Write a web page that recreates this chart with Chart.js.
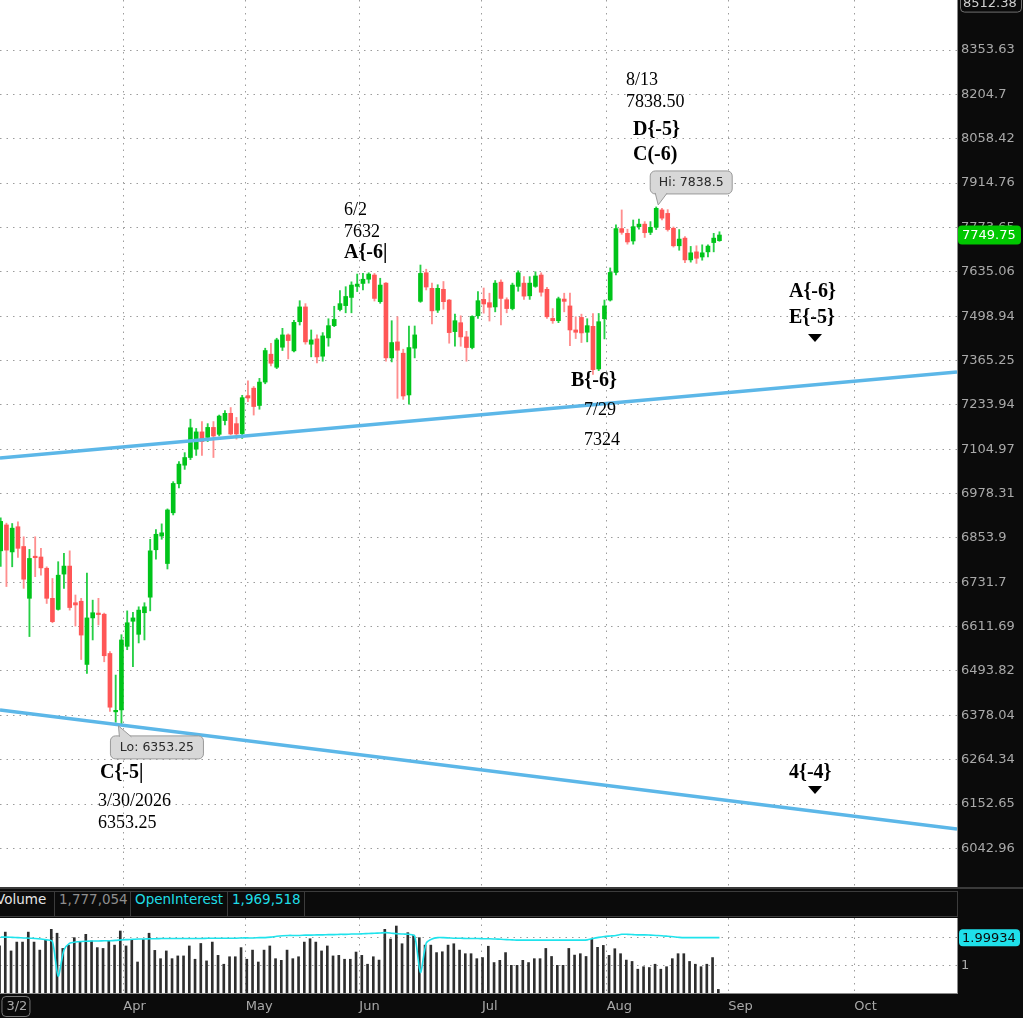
<!DOCTYPE html>
<html>
<head>
<meta charset="utf-8">
<title>Futures daily chart</title>
<script src="https://cdn.jsdelivr.net/npm/chart.js@4.4.1/dist/chart.umd.min.js"></script>
<style>
  html, body { margin: 0; padding: 0; background: #0b0b0b; }
  #wrap { position: relative; width: 1023px; height: 1018px; overflow: hidden; background: #0b0b0b; }
  #price { position: absolute; left: 0; top: 0; }
  #vol { position: absolute; left: 0; top: 918px; }
  #hdr { position: absolute; left: 0; top: 887px; width: 1023px; height: 31px; background: #0b0b0b;
         border-top: 2px solid #3a3a3a; box-sizing: border-box; }
  #hdr .box { position: absolute; left: -2px; top: 2px; width: 960px; height: 26px; border: 1px solid #3c3c3c; box-sizing: border-box; }
  #hdr .cell { position: absolute; top: 2px; height: 26px; line-height: 26px; font: 13.5px "DejaVu Sans", sans-serif;
               border-right: 1px solid #3c3c3c; box-sizing: border-box; padding-left: 4px; white-space: nowrap; }
</style>
</head>
<body>
<div id="wrap">
  <canvas id="price" width="1023" height="887"></canvas>
  <div id="hdr">
    <div class="box"></div>
    <div class="cell" style="left:-4px;width:59px;color:#e6e6e6;padding-left:0">Volume</div>
    <div class="cell" style="left:55px;width:76px;color:#8e8e8e">1,777,054</div>
    <div class="cell" style="left:131px;width:97px;color:#1fdde6">OpenInterest</div>
    <div class="cell" style="left:228px;width:77px;color:#1fdde6">1,969,518</div>
  </div>
  <canvas id="vol" width="1023" height="100"></canvas>
</div>
<script>
// ---------- daily bars, Mar 2 .. Aug 28 (one entry per session) ----------
const opens = [
  6818, 6890, 6815, 6885, 6830, 6688, 6803, 6801, 6770, 6688,
  6658, 6754, 6776, 6676, 6680, 6511, 6635, 6648, 6645, 6540,
  6387, 6392, 6559, 6626, 6591, 6649, 6691, 6821, 6859, 6783,
  6924, 7006, 7059, 7081, 7105, 7155, 7139, 7168, 7148, 7188,
  7209, 7179, 7150, 7261, 7283, 7232, 7301, 7384, 7345, 7405,
  7442, 7394, 7482, 7527, 7414, 7430, 7378, 7433, 7470, 7519,
  7531, 7556, 7590, 7599, 7612, 7625, 7543, 7600, 7373, 7421,
  7387, 7263, 7402, 7544, 7632, 7584, 7517, 7581, 7548, 7452,
  7479, 7436, 7404, 7500, 7550, 7540, 7527, 7603, 7549, 7522,
  7590, 7600, 7561, 7590, 7625, 7581, 7492, 7485, 7551, 7530,
  7457, 7495, 7450, 7468, 7340, 7491, 7548, 7633, 7770, 7755,
  7731, 7776, 7784, 7758, 7774, 7829, 7818, 7771, 7716, 7740,
  7672, 7697, 7681, 7697, 7726, 7732
];
const highs = [
  6910, 6895, 6894, 6899, 6857, 6822, 6857, 6825, 6774, 6742,
  6788, 6811, 6818, 6697, 6688, 6757, 6683, 6688, 6648, 6545,
  6483, 6590, 6654, 6650, 6665, 6676, 6850, 6877, 6893, 6935,
  7012, 7069, 7095, 7192, 7165, 7185, 7179, 7185, 7204, 7217,
  7226, 7197, 7262, 7305, 7288, 7312, 7402, 7417, 7432, 7462,
  7445, 7486, 7546, 7537, 7457, 7442, 7449, 7491, 7529, 7577,
  7589, 7604, 7628, 7630, 7632, 7630, 7615, 7602, 7485, 7497,
  7399, 7469, 7469, 7656, 7643, 7600, 7595, 7605, 7550, 7505,
  7500, 7453, 7500, 7574, 7585, 7569, 7608, 7610, 7555, 7600,
  7638, 7620, 7620, 7635, 7632, 7587, 7522, 7557, 7569, 7569,
  7497, 7505, 7491, 7507, 7507, 7548, 7647, 7782, 7829, 7768,
  7797, 7800, 7792, 7792, 7838.5, 7834, 7830, 7775, 7767, 7745,
  7714, 7716, 7719, 7719, 7755, 7760
];
const lows = [
  6775, 6720, 6774, 6800, 6715, 6585, 6747, 6751, 6674, 6622,
  6656, 6715, 6656, 6613, 6524, 6487, 6576, 6616, 6518, 6388,
  6360, 6353.25, 6550, 6505, 6568, 6576, 6654, 6795, 6850, 6768,
  6918, 6994, 7047, 7075, 7087, 7087, 7127, 7081, 7143, 7175,
  7146, 7134, 7136, 7243, 7204, 7221, 7296, 7349, 7341, 7395,
  7370, 7391, 7472, 7414, 7376, 7358, 7363, 7408, 7467, 7515,
  7509, 7509, 7574, 7579, 7600, 7545, 7538, 7363, 7361, 7253,
  7250, 7236, 7373, 7541, 7579, 7475, 7510, 7520, 7417, 7408,
  7408, 7363, 7400, 7492, 7508, 7484, 7512, 7472, 7509, 7518,
  7575, 7550, 7550, 7587, 7560, 7492, 7477, 7479, 7512, 7410,
  7431, 7419, 7421, 7324, 7335, 7430, 7545, 7625, 7752, 7721,
  7721, 7768, 7742, 7751, 7767, 7797, 7762, 7712, 7702, 7663,
  7665, 7661, 7671, 7681, 7697, 7730
];
const closes = [
  6900, 6820, 6881, 6825, 6740, 6797, 6799, 6771, 6688, 6625,
  6751, 6776, 6663, 6670, 6589, 6635, 6649, 6644, 6534, 6399,
  6391, 6576, 6622, 6635, 6656, 6665, 6818, 6864, 6868, 6932,
  7007, 7062, 7081, 7167, 7155, 7127, 7168, 7143, 7201, 7209,
  7149, 7149, 7255, 7254, 7229, 7301, 7395, 7357, 7427, 7442,
  7425, 7480, 7527, 7421, 7427, 7376, 7439, 7470, 7489, 7537,
  7559, 7594, 7597, 7612, 7628, 7553, 7594, 7373, 7419, 7396,
  7260, 7404, 7442, 7630, 7588, 7515, 7584, 7543, 7449, 7485,
  7436, 7404, 7498, 7546, 7536, 7526, 7600, 7553, 7522, 7594,
  7632, 7560, 7600, 7622, 7572, 7497, 7485, 7552, 7544, 7457,
  7450, 7448, 7470, 7338, 7482, 7530, 7633, 7770, 7758, 7728,
  7776, 7784, 7757, 7774, 7834, 7803, 7767, 7716, 7737, 7672,
  7694, 7677, 7694, 7715, 7740, 7749.75
];
// volume and open interest, millions of contracts
const volumes = [
  1.70, 2.20, 1.52, 1.84, 1.84, 2.20, 1.84, 1.55, 1.91, 2.30, 2.16,
  1.61, 1.73, 2.00, 1.84, 2.12, 1.88, 1.64, 1.61, 1.88, 1.73,
  2.24, 1.70, 1.91, 1.12, 1.94, 2.16, 1.54, 1.24, 1.52, 1.24,
  1.34, 1.34, 1.70, 1.22, 1.79, 1.16, 1.84, 1.36, 1.04, 1.31,
  1.31, 1.64, 1.22, 1.55, 1.12, 1.55, 1.70, 1.24, 1.18, 1.55,
  1.24, 1.31, 1.84, 1.96, 1.84, 1.52, 1.70, 1.34, 1.36, 1.22,
  1.22, 1.48, 1.36, 1.04, 1.31, 1.19, 2.30, 1.95, 2.42, 1.78,
  2.18, 2.09, 2.00, 1.73, 1.73, 1.46, 1.49, 1.73, 1.78, 1.55,
  1.42, 1.42, 1.24, 1.28, 1.69, 1.10, 1.18, 1.46, 1.00, 1.00,
  1.18, 1.10, 1.24, 1.24, 1.61, 1.32, 1.00, 1.00, 1.61, 1.37,
  1.42, 1.32, 1.94, 1.65, 1.72, 1.36, 1.60, 1.42, 1.19, 1.14,
  0.86, 0.95, 0.92, 1.04, 0.86, 0.95, 1.24, 1.42, 1.42, 1.14,
  1.04, 0.95, 1.04, 1.28, 0.13
];
const openInterest = [
  2.02, 2.02, 2.01, 2.00, 1.99, 1.98, 1.97, 1.95, 1.92, 1.86, 0.61,
  1.55, 1.80, 1.84, 1.86, 1.87, 1.88, 1.88, 1.89, 1.89, 1.90,
  1.92, 1.93, 1.94, 1.95, 1.95, 1.96, 1.96, 1.97, 1.97, 1.97,
  1.97, 1.97, 1.97, 1.97, 1.97, 1.98, 1.98, 1.98, 1.98, 1.98,
  1.98, 1.99, 1.99, 1.99, 2.00, 2.00, 2.02, 2.05, 2.07, 2.08,
  2.08, 2.08, 2.09, 2.09, 2.10, 2.10, 2.11, 2.11, 2.12, 2.12,
  2.13, 2.13, 2.14, 2.15, 2.16, 2.17, 2.18, 2.16, 2.14, 2.13,
  2.12, 2.06, 0.74, 1.80, 1.95, 2.00, 2.00, 1.99, 1.98, 1.98,
  1.97, 1.97, 1.97, 1.96, 1.96, 1.95, 1.94, 1.93, 1.92, 1.91,
  1.91, 1.91, 1.91, 1.91, 1.91, 1.91, 1.91, 1.91, 1.91, 1.91,
  1.91, 1.92, 1.97, 2.01, 2.04, 2.06, 2.08, 2.12, 2.12, 2.11,
  2.10, 2.10, 2.09, 2.08, 2.07, 2.05, 2.03, 2.01, 2.00, 2.00,
  2.00, 2.00, 2.00, 2.00, 2.00
];

// axis ticks (bar index for months, prices for the log axis)
const monthLabels = ["3/2", "Apr", "May", "Jun", "Jul", "Aug", "Sep", "Oct"];
const monthTicks = [1.0, 21.32, 42.61, 62.37, 83.70, 105.39, 126.54, 148.45];
const priceTicks = [8353.63, 8204.7, 8058.42, 7914.76, 7773.65, 7635.06, 7498.94, 7365.25, 7233.94,
  7104.97, 6978.31, 6853.9, 6731.7, 6611.69, 6493.82, 6378.04, 6264.34, 6152.65, 6042.96];
const volTicks = [1, 2];
const volTickLabels = ["1", ""];
const axisTopValue = 8512.38;
const oiBadgeValue = 1.99934;

// channel lines: [bar index, price]
const upperChannel = [[-0.12, 7079.6], [166.31, 7331.0]];
const lowerChannel = [[-0.12, 6391.6], [166.31, 6090.5]];

// callouts anchored at bar index / price
const hiPoint = { bar: 114, price: 7838.5, text: "Hi: 7838.5" };
const loPoint = { bar: 21, price: 6353.25, text: "Lo: 6353.25" };

// wave-count notes (drawn text, left edge / middle in pixels)
const notes = [
  { t: "8/13", x: 626, y: 80 }, { t: "7838.50", x: 626, y: 102 },
  { t: "D{-5}", x: 633, y: 130, b: true }, { t: "C(-6)", x: 633, y: 155, b: true },
  { t: "6/2", x: 344, y: 210 }, { t: "7632", x: 344, y: 232 },
  { t: "A{-6|", x: 344, y: 253, b: true },
  { t: "A{-6}", x: 789, y: 292, b: true }, { t: "E{-5}", x: 789, y: 318, b: true },
  { t: "B{-6}", x: 571, y: 381, b: true },
  { t: "7/29", x: 584, y: 410 }, { t: "7324", x: 584, y: 440 },
  { t: "C{-5|", x: 100, y: 773, b: true },
  { t: "3/30/2026", x: 98, y: 801 }, { t: "6353.25", x: 98, y: 823 },
  { t: "4{-4}", x: 789, y: 773, b: true }
];
const arrows = [{ x: 815, y: 338 }, { x: 815, y: 790 }];

const X_MIN = -0.12, X_MAX = 166.31;
const GREEN = "#00c41a", GREEN_WICK = "#26cf46", RED = "#ff5656", RED_WICK = "#ff8f8f";
const AXIS_TXT = "#a9a9a9";
const GRID = "#9c9c9c";

const idx = closes.map((_, i) => i);
const isUp = idx.map(i => closes[i] >= opens[i]);

// black frame, white plotting pane
const paneBg = {
  id: "paneBg",
  beforeDraw(chart) {
    const { ctx, chartArea: a } = chart;
    ctx.save();
    ctx.fillStyle = "#0b0b0b";
    ctx.fillRect(0, 0, chart.width, chart.height);
    ctx.fillStyle = "#ffffff";
    ctx.fillRect(a.left, a.top, a.right - a.left, a.bottom - a.top);
    ctx.restore();
  }
};

function roundRect(ctx, x, y, w, h, r) {
  ctx.beginPath();
  ctx.moveTo(x + r, y);
  ctx.arcTo(x + w, y, x + w, y + h, r);
  ctx.arcTo(x + w, y + h, x, y + h, r);
  ctx.arcTo(x, y + h, x, y, r);
  ctx.arcTo(x, y, x + w, y, r);
  ctx.closePath();
}

function callout(ctx, tipX, tipY, text, below) {
  const w = text.length > 10 ? 93 : 82, h = 23;
  const bx = tipX - 8, by = below ? tipY + 10 : tipY - 11 - h;
  ctx.fillStyle = "#d8d8d8";
  ctx.strokeStyle = "#9a9a9a";
  ctx.lineWidth = 1;
  roundRect(ctx, bx, by, w, h, 5);
  ctx.fill();
  ctx.stroke();
  ctx.beginPath();
  if (below) {
    ctx.moveTo(tipX + 1, by + 1); ctx.lineTo(tipX, tipY); ctx.lineTo(tipX + 13, by + 1);
  } else {
    ctx.moveTo(tipX - 3, by + h - 1); ctx.lineTo(tipX, tipY); ctx.lineTo(tipX + 9, by + h - 1);
  }
  ctx.fill();
  ctx.stroke();
  ctx.fillRect(tipX - 1, below ? by + 1 : by + h - 3, 12, 2);
  ctx.fillStyle = "#2a2a2a";
  ctx.font = '12.5px "DejaVu Sans", sans-serif';
  ctx.textAlign = "center";
  ctx.textBaseline = "middle";
  ctx.fillText(text, bx + w / 2, by + h / 2 + 0.5);
}

const priceOverlay = {
  id: "priceOverlay",
  afterDatasetsDraw(chart) {
    const { ctx, scales: { x, y } } = chart;
    ctx.save();
    ctx.fillStyle = "#000";
    ctx.textAlign = "left";
    ctx.textBaseline = "middle";
    notes.forEach(n => {
      ctx.font = (n.b ? "bold 20px" : "18px") + ' "Liberation Serif", serif';
      ctx.fillText(n.t, n.x, n.y);
    });
    arrows.forEach(p => {
      ctx.beginPath();
      ctx.moveTo(p.x - 7, p.y - 4);
      ctx.lineTo(p.x + 7, p.y - 4);
      ctx.lineTo(p.x, p.y + 4);
      ctx.closePath();
      ctx.fill();
    });
    callout(ctx, x.getPixelForValue(hiPoint.bar) + 2, y.getPixelForValue(hiPoint.price) - 2, hiPoint.text, false);
    callout(ctx, x.getPixelForValue(loPoint.bar) - 3, y.getPixelForValue(loPoint.price) + 1, loPoint.text, true);
    ctx.restore();
  },
  afterDraw(chart) {
    const { ctx, scales: { y }, chartArea: a } = chart;
    ctx.save();
    ctx.font = '13px "DejaVu Sans", sans-serif';
    ctx.textBaseline = "middle";
    ctx.textAlign = "left";
    // top-of-axis value box
    const ty = y.getPixelForValue(axisTopValue);
    ctx.fillStyle = "#0b0b0b";
    ctx.strokeStyle = "#707070";
    roundRect(ctx, a.right + 3.5, ty - 9.5, 61, 18, 4);
    ctx.fill(); ctx.stroke();
    ctx.fillStyle = "#d0d0d0";
    ctx.fillText(String(axisTopValue), a.right + 6, ty);
    // last price badge
    const last = closes[closes.length - 1];
    const ly = y.getPixelForValue(last);
    ctx.fillStyle = "#00c800";
    roundRect(ctx, a.right + 1, ly - 9.5, 63, 19, 4);
    ctx.fill();
    ctx.fillStyle = "#ffffff";
    ctx.fillText(last.toFixed(2), a.right + 5, ly + 0.5);
    ctx.restore();
  }
};

new Chart(document.getElementById("price"), {
  type: "bar",
  data: {
    datasets: [
      {
        label: "wick",
        data: idx.map(i => ({ x: i, y: [lows[i], highs[i]] })),
        backgroundColor: idx.map(i => (isUp[i] ? GREEN_WICK : RED_WICK)),
        barThickness: 1.2,
        grouped: false,
        order: 3
      },
      {
        label: "body",
        data: idx.map(i => ({ x: i, y: [opens[i], closes[i]] })),
        backgroundColor: idx.map(i => (isUp[i] ? GREEN : RED)),
        barThickness: 4,
        minBarLength: 1.5,
        grouped: false,
        order: 2
      },
      {
        type: "line",
        label: "upper channel",
        data: upperChannel.map(p => ({ x: p[0], y: p[1] })),
        borderColor: "#5cb7e8",
        borderWidth: 3.5,
        pointRadius: 0,
        order: 1
      },
      {
        type: "line",
        label: "lower channel",
        data: lowerChannel.map(p => ({ x: p[0], y: p[1] })),
        borderColor: "#5cb7e8",
        borderWidth: 3.5,
        pointRadius: 0,
        order: 1
      }
    ]
  },
  options: {
    responsive: false,
    animation: false,
    layout: { padding: 0 },
    plugins: { legend: { display: false }, tooltip: { enabled: false } },
    scales: {
      x: {
        type: "linear",
        min: X_MIN,
        max: X_MAX,
        offset: false,
        afterBuildTicks: s => { s.ticks = monthTicks.map(v => ({ value: v })); },
        afterFit: s => { s.height = 0; s.paddingLeft = 0; s.paddingRight = 0; },
        ticks: { display: false },
        grid: { offset: false, color: c => (c.index === 0 ? "rgba(0,0,0,0)" : GRID), lineWidth: 1, drawTicks: false },
        border: { display: false, dash: [1.5, 5] }
      },
      y: {
        type: "logarithmic",
        position: "right",
        min: 5949.0,
        max: 8524.8,
        afterBuildTicks: s => { s.ticks = priceTicks.map(v => ({ value: v })); },
        afterFit: s => { s.width = 66; s.paddingTop = 0; s.paddingBottom = 0; },
        ticks: {
          color: AXIS_TXT,
          padding: 4,
          font: { family: "DejaVu Sans", size: 13 },
          callback: v => String(v)
        },
        grid: { color: GRID, lineWidth: 1, drawTicks: false },
        border: { display: true, color: "#8a8a8a", width: 1, dash: [1.5, 5] }
      }
    }
  },
  plugins: [paneBg, priceOverlay]
});

const volOverlay = {
  id: "volOverlay",
  afterDraw(chart) {
    const { ctx, scales: { x, y }, chartArea: a } = chart;
    ctx.save();
    // boxed first-session label
    const fx = x.getPixelForValue(monthTicks[0]);
    ctx.strokeStyle = "#777";
    ctx.lineWidth = 1;
    roundRect(ctx, fx - 4.5, a.bottom + 3.5, 28, 20, 4);
    ctx.stroke();
    // open interest badge
    const oy = y.getPixelForValue(oiBadgeValue);
    ctx.fillStyle = "#1fe0ea";
    roundRect(ctx, a.right + 2, oy - 8.5, 61, 17, 4);
    ctx.fill();
    ctx.fillStyle = "#0b0b0b";
    ctx.font = '13px "DejaVu Sans", sans-serif';
    ctx.textBaseline = "middle";
    ctx.textAlign = "left";
    ctx.fillText(String(oiBadgeValue), a.right + 5, oy + 0.5);
    ctx.restore();
  }
};

new Chart(document.getElementById("vol"), {
  type: "bar",
  data: {
    datasets: [
      {
        type: "line",
        label: "OpenInterest",
        data: idx.map(i => ({ x: i, y: openInterest[i] })),
        borderColor: "#1fe3ec",
        borderWidth: 1.6,
        pointRadius: 0,
        tension: 0.25,
        order: 1
      },
      {
        label: "Volume",
        data: idx.map(i => ({ x: i - 0.2, y: volumes[i] })),
        backgroundColor: "#2e2e2e",
        barThickness: 2,
        grouped: false,
        order: 2
      }
    ]
  },
  options: {
    responsive: false,
    animation: false,
    layout: { padding: 0 },
    plugins: { legend: { display: false }, tooltip: { enabled: false } },
    scales: {
      x: {
        type: "linear",
        min: X_MIN,
        max: X_MAX,
        offset: false,
        afterBuildTicks: s => { s.ticks = monthTicks.map(v => ({ value: v })); },
        afterFit: s => { s.height = 25; s.paddingLeft = 0; s.paddingRight = 0; },
        ticks: {
          color: AXIS_TXT,
          align: "start",
          padding: 6,
          maxRotation: 0,
          autoSkip: false,
          font: { family: "DejaVu Sans", size: 13 },
          callback: v => monthLabels[monthTicks.indexOf(v)]
        },
        grid: { offset: false, color: c => (c.index === 0 ? "rgba(0,0,0,0)" : GRID), lineWidth: 1, drawTicks: false },
        border: { display: true, color: "#8a8a8a", dash: [1.5, 5] }
      },
      y: {
        position: "right",
        min: 0,
        max: 2.71,
        afterBuildTicks: s => { s.ticks = volTicks.map(v => ({ value: v })); },
        afterFit: s => { s.width = 66; s.paddingTop = 0; s.paddingBottom = 0; },
        ticks: {
          color: AXIS_TXT,
          padding: 4,
          font: { family: "DejaVu Sans", size: 13 },
          callback: v => volTickLabels[volTicks.indexOf(v)]
        },
        grid: { color: GRID, lineWidth: 1, drawTicks: false },
        border: { display: true, color: "#8a8a8a", width: 1, dash: [1.5, 5] }
      }
    }
  },
  plugins: [paneBg, volOverlay]
});
</script>
</body>
</html>
